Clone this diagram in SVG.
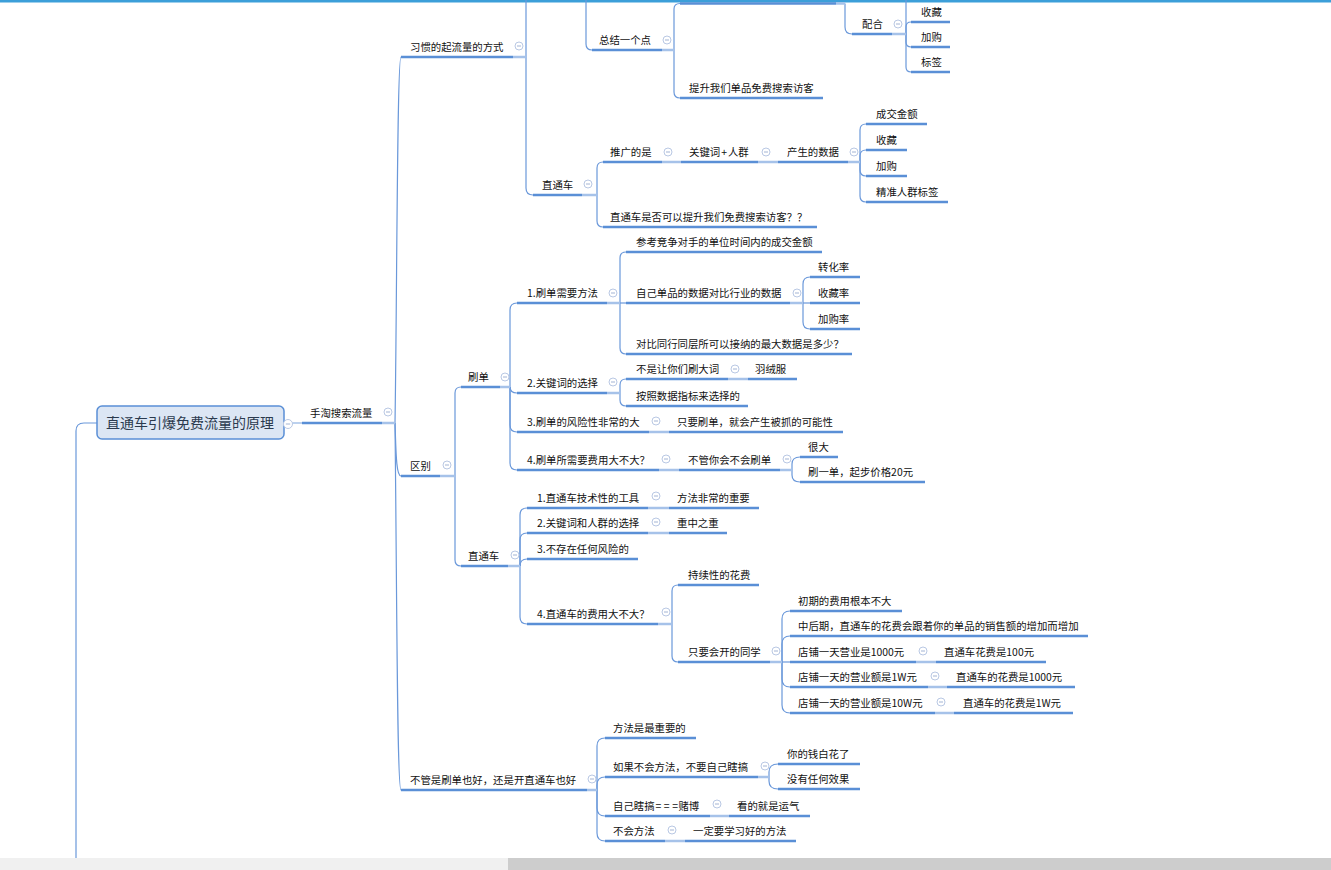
<svg xmlns="http://www.w3.org/2000/svg" xmlns:xlink="http://www.w3.org/1999/xlink" width="1331" height="870" viewBox="0 0 1331 870">
<style>
.u{stroke:#5a8fd6;stroke-width:2.6;fill:none}
.l{stroke:#a6c2e9;stroke-width:2.6;fill:none}
.c{stroke:#6a98da;stroke-width:1.2;fill:none}
.t{font-family:"Noto Sans CJK SC","Liberation Sans",sans-serif;font-size:10.4px;fill:#111}
.rt{font-family:"Noto Sans CJK SC","Liberation Sans",sans-serif;font-size:14px;fill:#2b3a4e;text-anchor:middle}
</style>
<defs>
<g id="b"><circle r="4" fill="#fff" stroke="#b9c8e4" stroke-width="1"/><line x1="-2" y1="0" x2="2" y2="0" stroke="#a3b4d4" stroke-width="1"/></g>
</defs>
<rect x="0" y="0" width="1331" height="870" fill="#fff"/>
<rect x="0" y="0" width="1331" height="2.5" fill="#3c9fd9"/>
<g id="connectors">
<path class="c" d="M97,423 L84,423 Q76,423 76,431 L76,858"/>
<path class="l" d="M284,423 L302,423" style="stroke-width:1.5"/>
<path class="c" d="M395,423 C397,300 397,57 401,57"/>
<path class="c" d="M395,423 C396,450 396,476 401,476"/>
<path class="c" d="M395,423 C397,600 397,790 401,790"/>
<path class="c" d="M526,57 L526,-5"/>
<path class="c" d="M526,57 L526,188 Q526,195 533,195"/>
<path class="c" d="M586,-5 L586,44 Q586,50 592,50"/>
<path class="c" d="M674,50 L674,9 Q674,3.5 680,3.5"/>
<path class="c" d="M674,50 L674,92 Q674,98 680,98"/>
<path class="c" d="M845,3.5 L845,27 Q845,34 852,34"/>
<path class="c" d="M906,34 L906,-5"/>
<path class="c" d="M906,34 L906,27 Q906,22 911,22"/>
<path class="c" d="M906,34 L906,42 Q906,47 911,47"/>
<path class="c" d="M906,34 L906,67 Q906,72 911,72"/>
<path class="c" d="M597,195 L597,168 Q597,162 603,162"/>
<path class="c" d="M597,195 L597,221 Q597,227 603,227"/>
<path class="c" d="M860,162 L860,130 Q860,124 866,124"/>
<path class="c" d="M860,162 L860,156 Q860,150 866,150"/>
<path class="c" d="M860,162 L860,170 Q860,176 866,176"/>
<path class="c" d="M860,162 L860,196 Q860,202 866,202"/>
<path class="c" d="M455,476 L455,393 Q455,387 461,387"/>
<path class="c" d="M455,476 L455,560 Q455,566 461,566"/>
<path class="c" d="M510,387 L510,310 Q510,303 517,303"/>
<path class="c" d="M510,387 Q510,393 517,393"/>
<path class="c" d="M510,387 L510,425 Q510,432 517,432"/>
<path class="c" d="M510,387 L510,463 Q510,470 517,470"/>
<path class="c" d="M620,303 L620,258 Q620,252 626,252"/>
<path class="c" d="M620,303 L626,303"/>
<path class="c" d="M620,303 L620,348 Q620,354 626,354"/>
<path class="c" d="M803,303 L803,284 Q803,277 810,277"/>
<path class="c" d="M803,303 L810,303"/>
<path class="c" d="M803,303 L803,322 Q803,329 810,329"/>
<path class="c" d="M620,393 L620,385 Q620,379 626,379"/>
<path class="c" d="M620,393 L620,400 Q620,406 626,406"/>
<path class="c" d="M792,470 L792,464 Q792,457 800,457"/>
<path class="c" d="M792,470 L792,475 Q792,482 800,482"/>
<path class="c" d="M520,566 L520,515 Q520,508 527,508"/>
<path class="c" d="M520,566 L520,540 Q520,533 527,533"/>
<path class="c" d="M520,566 Q520,559 527,559"/>
<path class="c" d="M520,566 L520,617 Q520,624 527,624"/>
<path class="c" d="M672,624 L672,591 Q672,585 678,585"/>
<path class="c" d="M672,624 L672,656 Q672,662 678,662"/>
<path class="c" d="M782,662 L782,619 Q782,611 790,611"/>
<path class="c" d="M782,662 L782,644 Q782,636 790,636"/>
<path class="c" d="M782,662 L790,662"/>
<path class="c" d="M782,662 L782,679 Q782,687 790,687"/>
<path class="c" d="M782,662 L782,705 Q782,713 790,713"/>
<path class="c" d="M597,790 L597,746 Q597,738 605,738"/>
<path class="c" d="M597,790 L597,785 Q597,777 605,777"/>
<path class="c" d="M597,790 L597,808 Q597,816 605,816"/>
<path class="c" d="M597,790 L597,833 Q597,841 605,841"/>
<path class="c" d="M769,777 L769,772 Q769,764 778,764"/>
<path class="c" d="M769,777 L769,781 Q769,789 778,789"/>
<path class="l" d="M382,423H395 M513,57H526 M440,476H455 M587,790H597 M662,50H674 M836,3.5H845 M892,34H906 M582,195H597 M662,162H681 M758,162H778 M848,162H860 M500,387H510 M607,303H620 M790,303H803 M607,393H620 M728,379H748 M649,432H669 M659,470H679 M780,470H792 M508,566H520 M648,508H669 M648,533H669 M658,624H672 M770,662H782 M916,662H936 M928,687H947 M935,713H954 M758,777H769 M710,816H729 M665,841H685"/>
</g>
<g id="root">
<rect x="97" y="406" width="187" height="33" rx="5" fill="#dce6f4" stroke="#5a8fd6" stroke-width="1.5"/>
<text class="rt" x="190" y="428">直通车引爆免费流量的原理</text>
<g transform="translate(288,424)"><circle r="4.5" fill="#fff" stroke="#b9c8e4"/><line x1="-2.2" x2="2.2" stroke="#a3b4d4"/></g>
</g>
<g id="n1"><line class="u" x1="302" y1="423" x2="382" y2="423"/><text class="t" x="310" y="417">手淘搜索流量</text><use xlink:href="#b" x="388" y="412"/></g>
<g id="n2"><line class="u" x1="401" y1="57" x2="513" y2="57"/><text class="t" x="410" y="51">习惯的起流量的方式</text><use xlink:href="#b" x="519" y="46"/></g>
<g id="n3"><line class="u" x1="401" y1="476" x2="440" y2="476"/><text class="t" x="410" y="470">区别</text><use xlink:href="#b" x="447" y="465"/></g>
<g id="n4"><line class="u" x1="401" y1="790" x2="587" y2="790"/><text class="t" x="410" y="784">不管是刷单也好，还是开直通车也好</text><use xlink:href="#b" x="592" y="779"/></g>
<g id="n5"><line class="u" x1="592" y1="50" x2="662" y2="50"/><text class="t" x="599" y="44">总结一个点</text><use xlink:href="#b" x="667" y="40"/></g>
<g id="n6"><line class="u" x1="680" y1="3.5" x2="836" y2="3.5"/></g>
<g id="n7"><line class="u" x1="680" y1="98" x2="823" y2="98"/><text class="t" x="689" y="92">提升我们单品免费搜索访客</text></g>
<g id="n8"><line class="u" x1="852" y1="34" x2="892" y2="34"/><text class="t" x="862" y="28">配合</text><use xlink:href="#b" x="898" y="24"/></g>
<g id="n9"><line class="u" x1="911" y1="22" x2="950" y2="22"/><text class="t" x="921" y="16">收藏</text></g>
<g id="n10"><line class="u" x1="911" y1="47" x2="950" y2="47"/><text class="t" x="921" y="41">加购</text></g>
<g id="n11"><line class="u" x1="911" y1="72" x2="950" y2="72"/><text class="t" x="921" y="66">标签</text></g>
<g id="n12"><line class="u" x1="533" y1="195" x2="582" y2="195"/><text class="t" x="542" y="189">直通车</text><use xlink:href="#b" x="588" y="184"/></g>
<g id="n13"><line class="u" x1="603" y1="162" x2="662" y2="162"/><text class="t" x="610" y="156">推广的是</text><use xlink:href="#b" x="668" y="152"/></g>
<g id="n14"><line class="u" x1="681" y1="162" x2="758" y2="162"/><text class="t" x="689" y="156">关键词<tspan dx="1">+</tspan><tspan dx="1">人群</tspan></text><use xlink:href="#b" x="766" y="152"/></g>
<g id="n15"><line class="u" x1="778" y1="162" x2="848" y2="162"/><text class="t" x="787" y="156">产生的数据</text><use xlink:href="#b" x="854" y="152"/></g>
<g id="n16"><line class="u" x1="866" y1="124" x2="927" y2="124"/><text class="t" x="876" y="118">成交金额</text></g>
<g id="n17"><line class="u" x1="866" y1="150" x2="907" y2="150"/><text class="t" x="876" y="144">收藏</text></g>
<g id="n18"><line class="u" x1="866" y1="176" x2="907" y2="176"/><text class="t" x="876" y="170">加购</text></g>
<g id="n19"><line class="u" x1="866" y1="202" x2="948" y2="202"/><text class="t" x="876" y="196">精准人群标签</text></g>
<g id="n20"><line class="u" x1="603" y1="227" x2="817" y2="227"/><text class="t" x="610" y="221">直通车是否可以提升我们免费搜索访客？？</text></g>
<g id="n21"><line class="u" x1="461" y1="387" x2="500" y2="387"/><text class="t" x="468" y="381">刷单</text><use xlink:href="#b" x="505" y="377"/></g>
<g id="n22"><line class="u" x1="461" y1="566" x2="508" y2="566"/><text class="t" x="468" y="560">直通车</text><use xlink:href="#b" x="515" y="555"/></g>
<g id="n23"><line class="u" x1="517" y1="303" x2="607" y2="303"/><text class="t" x="527" y="297">1.刷单需要方法</text><use xlink:href="#b" x="613" y="293"/></g>
<g id="n24"><line class="u" x1="626" y1="252" x2="822" y2="252"/><text class="t" x="636" y="246">参考竞争对手的单位时间内的成交金额</text></g>
<g id="n25"><line class="u" x1="626" y1="303" x2="790" y2="303"/><text class="t" x="636" y="297">自己单品的数据对比行业的数据</text><use xlink:href="#b" x="797" y="293"/></g>
<g id="n26"><line class="u" x1="810" y1="277" x2="860" y2="277"/><text class="t" x="818" y="271">转化率</text></g>
<g id="n27"><line class="u" x1="810" y1="303" x2="860" y2="303"/><text class="t" x="818" y="297">收藏率</text></g>
<g id="n28"><line class="u" x1="810" y1="329" x2="860" y2="329"/><text class="t" x="818" y="323">加购率</text></g>
<g id="n29"><line class="u" x1="626" y1="354" x2="852" y2="354"/><text class="t" x="636" y="348">对比同行同层所可以接纳的最大数据是多少？</text></g>
<g id="n30"><line class="u" x1="517" y1="393" x2="607" y2="393"/><text class="t" x="527" y="387">2.关键词的选择</text><use xlink:href="#b" x="613" y="382"/></g>
<g id="n31"><line class="u" x1="626" y1="379" x2="728" y2="379"/><text class="t" x="636" y="373">不是让你们刷大词</text><use xlink:href="#b" x="735" y="369"/></g>
<g id="n32"><line class="u" x1="748" y1="379" x2="797" y2="379"/><text class="t" x="755" y="373">羽绒服</text></g>
<g id="n33"><line class="u" x1="626" y1="406" x2="748" y2="406"/><text class="t" x="636" y="400">按照数据指标来选择的</text></g>
<g id="n34"><line class="u" x1="517" y1="432" x2="649" y2="432"/><text class="t" x="527" y="426">3.刷单的风险性非常的大</text><use xlink:href="#b" x="656" y="421"/></g>
<g id="n35"><line class="u" x1="669" y1="432" x2="843" y2="432"/><text class="t" x="677" y="426">只要刷单，就会产生被抓的可能性</text></g>
<g id="n36"><line class="u" x1="517" y1="470" x2="659" y2="470"/><text class="t" x="527" y="464">4.刷单所需要费用大不大？</text><use xlink:href="#b" x="666" y="459"/></g>
<g id="n37"><line class="u" x1="679" y1="470" x2="780" y2="470"/><text class="t" x="688" y="464">不管你会不会刷单</text><use xlink:href="#b" x="787" y="459"/></g>
<g id="n38"><line class="u" x1="800" y1="457" x2="838" y2="457"/><text class="t" x="808" y="451">很大</text></g>
<g id="n39"><line class="u" x1="800" y1="482" x2="925" y2="482"/><text class="t" x="808" y="476">刷一单，起步价格20元</text></g>
<g id="n40"><line class="u" x1="527" y1="508" x2="648" y2="508"/><text class="t" x="537" y="502">1.直通车技术性的工具</text><use xlink:href="#b" x="656" y="496"/></g>
<g id="n41"><line class="u" x1="669" y1="508" x2="759" y2="508"/><text class="t" x="677" y="502">方法非常的重要</text></g>
<g id="n42"><line class="u" x1="527" y1="533" x2="648" y2="533"/><text class="t" x="537" y="527">2.关键词和人群的选择</text><use xlink:href="#b" x="656" y="522"/></g>
<g id="n43"><line class="u" x1="669" y1="533" x2="727" y2="533"/><text class="t" x="677" y="527">重中之重</text></g>
<g id="n44"><line class="u" x1="527" y1="559" x2="638" y2="559"/><text class="t" x="537" y="553">3.不存在任何风险的</text></g>
<g id="n45"><line class="u" x1="527" y1="624" x2="658" y2="624"/><text class="t" x="537" y="618">4.直通车的费用大不大？</text><use xlink:href="#b" x="666" y="612"/></g>
<g id="n46"><line class="u" x1="678" y1="585" x2="759" y2="585"/><text class="t" x="688" y="579">持续性的花费</text></g>
<g id="n47"><line class="u" x1="678" y1="662" x2="770" y2="662"/><text class="t" x="688" y="656">只要会开的同学</text><use xlink:href="#b" x="776" y="651"/></g>
<g id="n48"><line class="u" x1="790" y1="611" x2="902" y2="611"/><text class="t" x="798" y="605">初期的费用根本不大</text></g>
<g id="n49"><line class="u" x1="790" y1="636" x2="1088" y2="636"/><text class="t" x="798" y="630">中后期，直通车的花费会跟着你的单品的销售额的增加而增加</text></g>
<g id="n50"><line class="u" x1="790" y1="662" x2="916" y2="662"/><text class="t" x="798" y="656">店铺一天营业是1000元</text><use xlink:href="#b" x="923" y="651"/></g>
<g id="n51"><line class="u" x1="936" y1="662" x2="1046" y2="662"/><text class="t" x="944" y="656">直通车花费是100元</text></g>
<g id="n52"><line class="u" x1="790" y1="687" x2="928" y2="687"/><text class="t" x="798" y="681">店铺一天的营业额是1W元</text><use xlink:href="#b" x="935" y="676"/></g>
<g id="n53"><line class="u" x1="947" y1="687" x2="1075" y2="687"/><text class="t" x="956" y="681">直通车的花费是1000元</text></g>
<g id="n54"><line class="u" x1="790" y1="713" x2="935" y2="713"/><text class="t" x="798" y="707">店铺一天的营业额是10W元</text><use xlink:href="#b" x="941" y="702"/></g>
<g id="n55"><line class="u" x1="954" y1="713" x2="1073" y2="713"/><text class="t" x="963" y="707">直通车的花费是1W元</text></g>
<g id="n56"><line class="u" x1="605" y1="738" x2="696" y2="738"/><text class="t" x="613" y="732">方法是最重要的</text></g>
<g id="n57"><line class="u" x1="605" y1="777" x2="758" y2="777"/><text class="t" x="613" y="771">如果不会方法，不要自己瞎搞</text><use xlink:href="#b" x="765" y="766"/></g>
<g id="n58"><line class="u" x1="778" y1="764" x2="860" y2="764"/><text class="t" x="787" y="758">你的钱白花了</text></g>
<g id="n59"><line class="u" x1="778" y1="789" x2="860" y2="789"/><text class="t" x="787" y="783">没有任何效果</text></g>
<g id="n60"><line class="u" x1="605" y1="816" x2="710" y2="816"/><text class="t" x="613" y="810">自己瞎搞<tspan dx="1">=</tspan><tspan dx="2.5">=</tspan><tspan dx="2.5">=</tspan><tspan dx="0.5">赌博</tspan></text><use xlink:href="#b" x="717" y="804"/></g>
<g id="n61"><line class="u" x1="729" y1="816" x2="810" y2="816"/><text class="t" x="737" y="810">看的就是运气</text></g>
<g id="n62"><line class="u" x1="605" y1="841" x2="665" y2="841"/><text class="t" x="613" y="835">不会方法</text><use xlink:href="#b" x="672" y="830"/></g>
<g id="n63"><line class="u" x1="685" y1="841" x2="796" y2="841"/><text class="t" x="693" y="835">一定要学习好的方法</text></g>
<rect x="0" y="858" width="1331" height="12" fill="#f0f0f0"/>
<rect x="508" y="858" width="823" height="12" fill="#cdcdcd"/>
</svg>
